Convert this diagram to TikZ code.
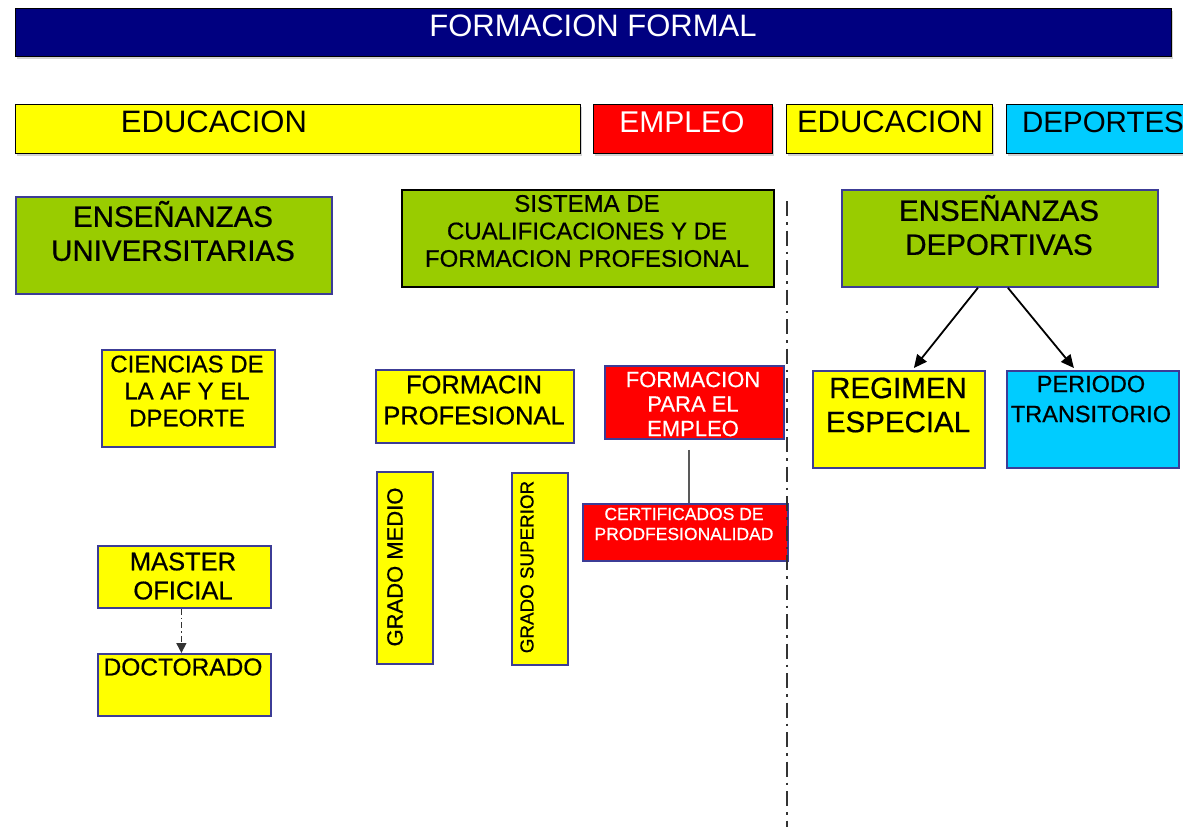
\documentclass[tikz,border=0pt]{standalone}
\usepackage{fontspec}
\setmainfont{Liberation Sans}
\newfontfamily\boldish[FakeBold=0.6]{Liberation Sans}
\usetikzlibrary{arrows.meta,shadows}
\definecolor{navyc}{RGB}{0,0,128}
\definecolor{yelc}{RGB}{255,255,0}
\definecolor{redc}{RGB}{255,0,0}
\definecolor{cyanc}{RGB}{0,204,255}
\definecolor{greenc}{RGB}{153,204,0}
\definecolor{bluebord}{RGB}{60,60,150}
\tikzset{
  hdrbox/.style={draw=black, line width=1.3pt, inner sep=0pt, anchor=north west,
    drop shadow={shadow xshift=1pt, shadow yshift=-2pt, fill=black!35}},
  bluebox/.style={draw=bluebord, line width=1.8pt, inner sep=0pt, anchor=north west},
  blackbox/.style={draw=black, line width=1.8pt, inner sep=0pt, anchor=north west},
  txt/.style={inner sep=0pt, align=center},
  arr/.style={-{Triangle[length=13pt,width=12pt]}, line width=1.8pt},
}
\newcommand{\fsz}[2]{\fontsize{#1}{#2}\selectfont}
\newcommand{\bsz}[2]{\boldish\fontsize{#1}{#2}\selectfont}
\begin{document}
\begin{tikzpicture}[x=1pt,y=-1pt]
\useasboundingbox (0,0) rectangle (1183,827);
\clip (0,0) rectangle (1183,827);
% title
\node[hdrbox, fill=navyc, minimum width=1156pt, minimum height=48pt] (title) at (15,8) {};
\node[txt, text=white, font=\fsz{31}{36}] (titlet) at (593,26) {FORMACION FORMAL};
% header row
\node[hdrbox, fill=yelc, minimum width=565pt, minimum height=49pt] (edu1) at (15,104) {};
\node[txt, font=\fsz{31}{36}] (edu1t) at (214,122) {EDUCACION};
\node[hdrbox, fill=redc, minimum width=179pt, minimum height=49pt] (emp) at (593,104) {};
\node[txt, text=white, font=\fsz{30}{36}] (empt) at (682,122) {EMPLEO};
\node[hdrbox, fill=yelc, minimum width=206pt, minimum height=49pt] (edu2) at (786,104) {};
\node[txt, font=\fsz{31}{36}] (edu2t) at (890,122) {EDUCACION};
\node[hdrbox, fill=cyanc, minimum width=190pt, minimum height=49pt] (dep) at (1006,104) {};
\node[txt, font=\fsz{29.5}{36}] (dept) at (1103,122) {DEPORTES};
% row 2
\node[bluebox, fill=greenc, minimum width=316pt, minimum height=97pt] (univ) at (15,196) {};
\node[txt, font=\bsz{29.5}{34}] (univt) at (173,231) {ENSEÑANZAS\\UNIVERSITARIAS};
\node[blackbox, fill=greenc, minimum width=372pt, minimum height=97pt] (sis) at (401,189) {};
\node[txt, font=\bsz{24}{27.5}] (sist) at (587,231) {SISTEMA DE\\CUALIFICACIONES Y DE\\FORMACION PROFESIONAL};
\node[bluebox, fill=greenc, minimum width=316pt, minimum height=97pt] (ensdep) at (841,189) {};
\node[txt, font=\bsz{29.5}{34}] (ensdept) at (999,225) {ENSEÑANZAS\\DEPORTIVAS};
% row 3
\node[bluebox, fill=yelc, minimum width=173pt, minimum height=97pt] (cien) at (101,349) {};
\node[txt, font=\bsz{24}{27}] (cient) at (187,391) {CIENCIAS DE\\LA AF Y EL\\DPEORTE};
\node[bluebox, fill=yelc, minimum width=198pt, minimum height=73pt] (fp) at (375,369) {};
\node[txt, font=\bsz{25.5}{31}] (fpt) at (474,400) {FORMACIN\\PROFESIONAL};
\node[bluebox, fill=redc, minimum width=179pt, minimum height=73pt] (fpe) at (604,365) {};
\node[txt, text=white, font=\bsz{22}{24.5}] (fpet) at (693,404) {FORMACION\\PARA EL\\EMPLEO};
\node[bluebox, fill=yelc, minimum width=172pt, minimum height=97pt] (reg) at (812,370) {};
\node[txt, font=\bsz{29.5}{34}] (regt) at (898,405) {REGIMEN\\ESPECIAL};
\node[bluebox, fill=cyanc, minimum width=172pt, minimum height=97pt] (per) at (1006,370) {};
\node[txt, font=\bsz{23.5}{30}] (pert) at (1091,399) {PERIODO\\TRANSITORIO};
% grado boxes
\node[bluebox, fill=yelc, minimum width=56pt, minimum height=192pt] (gm) at (376,471) {};
\node[txt, rotate=90, font=\bsz{22}{26}] (gmt) at (395,567) {GRADO MEDIO};
\node[bluebox, fill=yelc, minimum width=56pt, minimum height=192pt] (gs) at (511,472) {};
\node[txt, rotate=90, font=\bsz{18.8}{22}] (gst) at (527,567) {GRADO SUPERIOR};
% certificados
\node[bluebox, fill=redc, minimum width=205pt, minimum height=57pt] (cert) at (582,503) {};
\node[txt, text=white, font=\bsz{17.5}{20}] (certt) at (684,524) {CERTIFICADOS DE\\PRODFESIONALIDAD};
% master / doctorado
\node[bluebox, fill=yelc, minimum width=173pt, minimum height=62pt] (mas) at (97,545) {};
\node[txt, font=\bsz{25.5}{29}] (mast) at (183,576) {MASTER\\OFICIAL};
\node[bluebox, fill=yelc, minimum width=173pt, minimum height=62pt] (doc) at (97,653) {};
\node[txt, font=\bsz{24.5}{28}] (doct) at (183,667) {DOCTORADO};
% connectors
\coordinate (m1) at ([xshift=-3pt]mas.south);
\draw[-{Triangle[length=10pt,width=10pt]}, dash pattern=on 6pt off 3pt on 1.5pt off 3pt, line width=1.6pt, black!80] (m1) -- (m1 |- doc.north);
\draw[arr] ([xshift=-22pt]ensdep.south) -- ([xshift=15pt,yshift=2pt]reg.north);
\draw[arr] ([xshift=8pt]ensdep.south) -- ([xshift=-19pt,yshift=2pt]per.north);
\coordinate (c1) at ([xshift=-5.5pt,yshift=-10pt]fpe.south);
\draw[line width=2.2pt, black!65] (c1) -- (c1 |- cert.north);
% separator
\coordinate (vtop) at (787,201);
\coordinate (vbot) at (787,830);
\draw[dash pattern=on 15pt off 6pt on 2.5pt off 6pt, line width=2.8pt, black!80] (vtop) -- (vbot);
\end{tikzpicture}
\end{document}
